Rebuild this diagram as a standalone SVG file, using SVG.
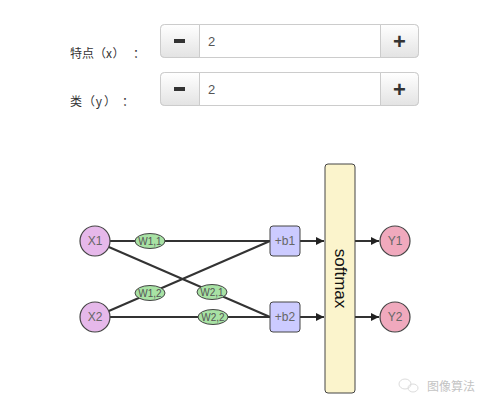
<svg xmlns="http://www.w3.org/2000/svg" width="490" height="409" viewBox="0 0 490 409">
<defs>
<linearGradient id="btn" x1="0" y1="0" x2="0" y2="1">
<stop offset="0" stop-color="#ffffff"/>
<stop offset="1" stop-color="#e3e3e3"/>
</linearGradient>
<marker id="arr" viewBox="0 0 10 10" refX="10" refY="5" markerWidth="8" markerHeight="8" orient="auto" markerUnits="userSpaceOnUse">
<path d="M0,0 L10,5 L0,10 z" fill="#222"/>
</marker>
</defs>
<style>
.lbl{font-family:"Noto Sans CJK SC","Liberation Sans",sans-serif;font-size:12px;fill:#333;text-anchor:middle}
.val{font-family:"Liberation Sans",sans-serif;font-size:13px;fill:#555}
.btn{fill:url(#btn);stroke:#cccccc;stroke-width:1}
.sign{font-family:"Liberation Sans",sans-serif;font-size:22px;font-weight:bold;fill:#333;text-anchor:middle}
.edge{stroke:#333;stroke-width:2;fill:none}
.x{fill:#e6b8ea;stroke:#444;stroke-width:1.2}
.y{fill:#f0a9bd;stroke:#444;stroke-width:1.2}
.w{fill:#a8e2a4;stroke:#444;stroke-width:1}
.b{fill:#cccbff;stroke:#444;stroke-width:1}
.sm{fill:#fbf4cc;stroke:#444;stroke-width:1}
.t{font-family:"Liberation Sans",sans-serif;font-size:12px;fill:#666;text-anchor:middle;dominant-baseline:central}
.tw{font-family:"Liberation Sans",sans-serif;font-size:10px;fill:#555;text-anchor:middle;dominant-baseline:central}
</style>
<rect width="490" height="409" fill="#fff"/>
<g id="input-x">
<text class="lbl" y="57.5"><tspan x="76">特</tspan><tspan x="88">点</tspan><tspan x="100">（</tspan><tspan x="109">x</tspan><tspan x="118.5">）</tspan><tspan x="139">：</tspan></text>
<rect x="160.5" y="24.5" width="258" height="33" rx="4" fill="#fff" stroke="#cccccc"/>
<path class="btn" d="M164.5,24.5 H199.5 V57.5 H164.5 A4,4 0 0 1 160.5,53.5 V28.5 A4,4 0 0 1 164.5,24.5 Z"/>
<path class="btn" d="M380.5,24.5 H414.5 A4,4 0 0 1 418.5,28.5 V53.5 A4,4 0 0 1 414.5,57.5 H380.5 Z"/>
<rect x="174" y="39" width="11" height="4" fill="#333"/>
<text class="sign" x="399.5" y="48.5">+</text>
<text class="val" x="208" y="46">2</text>
</g>
<g id="input-y">
<text class="lbl" y="105.5"><tspan x="76">类</tspan><tspan x="89">（</tspan><tspan x="99">y</tspan><tspan x="110">）</tspan><tspan x="128">：</tspan></text>
<rect x="160.5" y="72.5" width="258" height="33" rx="4" fill="#fff" stroke="#cccccc"/>
<path class="btn" d="M164.5,72.5 H199.5 V105.5 H164.5 A4,4 0 0 1 160.5,101.5 V76.5 A4,4 0 0 1 164.5,72.5 Z"/>
<path class="btn" d="M380.5,72.5 H414.5 A4,4 0 0 1 418.5,76.5 V101.5 A4,4 0 0 1 414.5,105.5 H380.5 Z"/>
<rect x="174" y="87" width="11" height="4" fill="#333"/>
<text class="sign" x="399.5" y="96.5">+</text>
<text class="val" x="208" y="94">2</text>
</g>
<g id="connectors">
<line class="edge" x1="95" y1="241" x2="270" y2="241"/>
<line class="edge" x1="95" y1="241" x2="270" y2="317"/>
<line class="edge" x1="95" y1="317" x2="270" y2="241"/>
<line class="edge" x1="95" y1="317" x2="270" y2="317"/>
<line class="edge" x1="300" y1="241" x2="324" y2="241" marker-end="url(#arr)"/>
<line class="edge" x1="300" y1="317" x2="324" y2="317" marker-end="url(#arr)"/>
<line class="edge" x1="355" y1="241" x2="379" y2="241" marker-end="url(#arr)"/>
<line class="edge" x1="355" y1="317" x2="379" y2="317" marker-end="url(#arr)"/>
</g>
<g id="X1"><circle class="x" cx="95" cy="241" r="15"/><text class="t" x="95" y="241">X1</text></g>
<g id="X2"><circle class="x" cx="95" cy="317" r="15"/><text class="t" x="95" y="317">X2</text></g>
<g id="W11"><ellipse class="w" cx="150" cy="241" rx="15" ry="7.5"/><text class="tw" x="150" y="241">W1,1</text></g>
<g id="W12"><ellipse class="w" cx="150" cy="293" rx="15" ry="7.5"/><text class="tw" x="150" y="293">W1,2</text></g>
<g id="W21"><ellipse class="w" cx="212" cy="292" rx="15" ry="7.5"/><text class="tw" x="212" y="292">W2,1</text></g>
<g id="W22"><ellipse class="w" cx="213" cy="317" rx="15" ry="7.5"/><text class="tw" x="213" y="317">W2,2</text></g>
<g id="b1"><rect class="b" x="270" y="226" width="30" height="30" rx="3"/><text class="t" x="285" y="241">+b1</text></g>
<g id="b2"><rect class="b" x="270" y="302" width="30" height="30" rx="3"/><text class="t" x="285" y="317">+b2</text></g>
<g id="softmax"><rect class="sm" x="325" y="164" width="30" height="229" rx="3"/>
<text x="340" y="278.5" transform="rotate(90 340 278.5)" font-family="Liberation Sans,sans-serif" font-size="17" fill="#111" text-anchor="middle" dominant-baseline="central">softmax</text></g>
<g id="Y1"><circle class="y" cx="395" cy="241" r="15"/><text class="t" x="395" y="241">Y1</text></g>
<g id="Y2"><circle class="y" cx="395" cy="317" r="15"/><text class="t" x="395" y="317">Y2</text></g>
<g id="watermark" opacity="0.5">
<ellipse cx="405" cy="384" rx="6" ry="5" fill="none" stroke="#bbb" stroke-width="1"/>
<ellipse cx="413" cy="388" rx="5" ry="4" fill="none" stroke="#bbb" stroke-width="1"/>
<text x="427" y="391" font-family="Noto Sans CJK SC,sans-serif" font-size="12" fill="#888">图像算法</text>
</g>
</svg>
